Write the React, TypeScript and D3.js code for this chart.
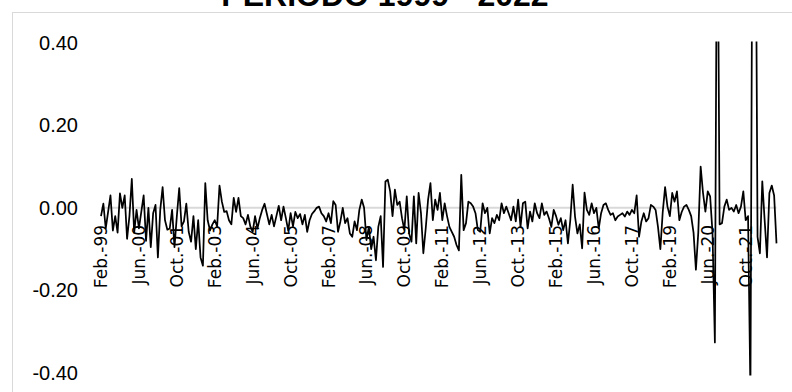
import React from "react";
import * as d3 from "d3";

const title = "PERIODO 1999 - 2022";

// Monthly values, Feb-99 .. Nov-22
const values: number[] = [
  -0.02, 0.01, -0.05, -0.01, 0.03, -0.055, -0.02, -0.06, 0.035, 0.0,
  0.03, -0.075, -0.02, 0.07, -0.06, -0.005, -0.05, -0.01, 0.03, -0.08,
  0.0, -0.095, -0.013, 0.007, -0.12, -0.005, 0.05, -0.03, -0.053, -0.05,
  -0.005, -0.095, -0.02, 0.048, -0.045, -0.033, 0.01, -0.058, -0.082, -0.02,
  -0.1, -0.03, -0.12, -0.14, 0.06, -0.03, -0.055, -0.04, -0.03, -0.045,
  0.054, 0.015, -0.01, -0.008, -0.03, -0.04, 0.024, -0.01, 0.024, -0.02,
  -0.025, -0.04, -0.017, -0.045, -0.058, -0.02, -0.05, -0.025, -0.005, 0.01,
  -0.015, -0.04, -0.017, -0.045, -0.02, 0.005, -0.03, 0.003, -0.025, -0.055,
  -0.013, -0.045, -0.01, -0.025, -0.015, -0.04, -0.017, -0.058, -0.03, -0.015,
  -0.008, 0.0, 0.003, -0.013, -0.02, -0.033, -0.013, -0.037, 0.016, 0.007,
  -0.058, -0.033, 0.0, -0.037, -0.025, -0.062, -0.07, -0.033, -0.054, -0.005,
  0.02, 0.0, -0.078, -0.046, -0.1, -0.07, -0.127, -0.046, -0.02, -0.143,
  0.064, 0.068, 0.04, -0.02, 0.044, 0.007, 0.015, -0.025, -0.054, 0.028,
  -0.062, -0.082, 0.028, -0.086, 0.036, -0.013, -0.11, -0.05, 0.02, 0.06,
  -0.03, 0.02, -0.005, 0.036, -0.03, 0.011, -0.02, -0.046, -0.058, -0.07,
  -0.09, -0.103, 0.08, -0.054, -0.037, 0.015, 0.011, 0.003, -0.013, -0.054,
  -0.058, 0.011, -0.013, 0.0, -0.062, -0.025, -0.037, -0.017, -0.03, 0.011,
  -0.013, 0.003, -0.013, -0.03, 0.003, -0.033, 0.02, -0.046, 0.011, 0.015,
  -0.05, -0.009, -0.033, 0.011, -0.013, -0.025, 0.011, -0.017, -0.009, -0.025,
  -0.046, -0.005, -0.02, -0.041, -0.025, -0.054, -0.03, -0.086, -0.03, 0.056,
  -0.021, -0.062, -0.04, -0.098, 0.037, -0.005, -0.017, 0.011, -0.013, 0.0,
  -0.05, -0.013, 0.007, 0.011, -0.005, -0.017, -0.013, -0.03, -0.021, -0.017,
  -0.013, -0.021, -0.009, -0.017, -0.005, -0.013, 0.03, -0.07, -0.033, -0.013,
  -0.033, -0.025, 0.007, 0.003, -0.005, -0.046, -0.1, -0.01, 0.05, 0.003,
  -0.02, 0.036, 0.015, 0.04, -0.03, -0.01, 0.003, 0.007, -0.005, -0.02,
  -0.06, -0.15, -0.06, 0.1, 0.036, -0.009, 0.04, 0.028, -0.06, -0.326,
  0.9, -0.04, -0.037, 0.003, 0.02, -0.005, 0.0, -0.009, 0.007, -0.013,
  0.003, 0.04, -0.03, -0.02, -0.45, 1.0, 1.0, -0.07, -0.11, 0.064,
  -0.03, -0.12, 0.036, 0.054, 0.03, -0.086,
];

const tickLabels: string[] = [
  "Feb.-99", "Jun.-00", "Oct.-01", "Feb.-03", "Jun.-04", "Oct.-05",
  "Feb.-07", "Jun.-08", "Oct.-09", "Feb.-11", "Jun.-12", "Oct.-13",
  "Feb.-15", "Jun.-16", "Oct.-17", "Feb.-19", "Jun.-20", "Oct.-21",
];
const tickEvery = 16;
const yTicks: number[] = [0.4, 0.2, 0.0, -0.2, -0.4];

export default function App() {
  const W = 792;
  const H = 392;
  const x = d3.scaleLinear().domain([0, values.length - 1]).range([101, 776.5]);
  const y = d3.scaleLinear().domain([-0.4, 0.4]).range([373, 42.7]);
  const line = d3
    .line<number>()
    .x((_, i) => x(i))
    .y((d) => y(d));

  return (
    <svg
      width={W}
      height={H}
      style={{ position: "absolute", left: 0, top: 0, background: "#fff" }}
    >
      <defs>
        <clipPath id="plotClip">
          <rect x={90} y={41.5} width={700} height={334} />
        </clipPath>
      </defs>
      <rect x={12.5} y={12.5} width={800} height={400} fill="#fff" stroke="#d9d9d9" strokeWidth={1} />
      <text
        x={385}
        y={6}
        textAnchor="middle"
        fontFamily="Liberation Sans, Arial, sans-serif"
        fontWeight="bold"
        fontSize={32}
        fill="#000"
      >
        {title}
      </text>
      {yTicks.map((t) => (
        <text
          key={t}
          x={78}
          y={y(t)}
          textAnchor="end"
          dominantBaseline="central"
          fontFamily="Liberation Sans, Arial, sans-serif"
          fontSize={20}
          fill="#000"
        >
          {t.toFixed(2)}
        </text>
      ))}
      <line x1={x(0)} x2={x(values.length - 1)} y1={y(0)} y2={y(0)} stroke="#d9d9d9" strokeWidth={2} />
      {tickLabels.map((lab, k) => {
        const xi = x(k * tickEvery);
        return (
          <text
            key={lab}
            transform={`translate(${xi},${y(0) + 17}) rotate(-90)`}
            textAnchor="end"
            dominantBaseline="central"
            fontFamily="DejaVu Sans, sans-serif"
            fontSize={17}
            fill="#000"
          >
            {lab}
          </text>
        );
      })}
      <path
        d={line(values) || ""}
        fill="none"
        stroke="#000"
        strokeWidth={1.75}
        strokeLinejoin="round"
        clipPath="url(#plotClip)"
      />
    </svg>
  );
}
